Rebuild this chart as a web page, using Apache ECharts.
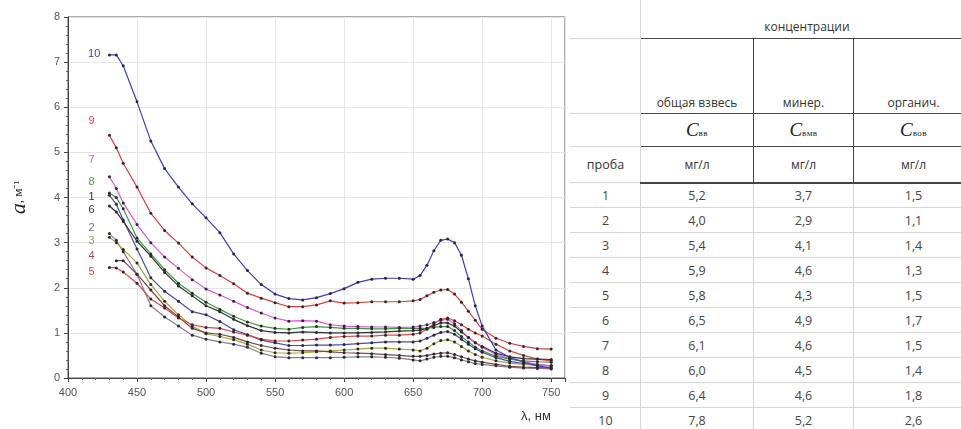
<!DOCTYPE html>
<html>
<head>
<meta charset="utf-8">
<script src="https://cdn.jsdelivr.net/npm/echarts@6/dist/echarts.min.js"></script>
<style>
  body { margin: 0; background: #fff; width: 961px; height: 429px; overflow: hidden; position: relative; }
  #chart { position: absolute; left: 0; top: 0; width: 570px; height: 429px; }
  #tbl { position: absolute; left: 570px; top: 0; width: 391px; height: 429px; overflow: hidden; }
  #tbl table { border-collapse: collapse; table-layout: fixed; width: 403px; font-family: "Open Sans", "Noto Sans", sans-serif; font-size: 12px; color: #333; }
  #tbl td { padding: 0; text-align: center; vertical-align: middle; white-space: nowrap; border: 1px solid transparent; }
  #tbl td.lt { border-right: 1px solid #d6d6d6; border-bottom: 1px solid #d6d6d6; }
  #tbl td.bx { border: 1.5px solid #444; }
  #tbl td.bot { vertical-align: bottom; padding-bottom: 2px; }
  #tbl .c { font-family: "Liberation Serif", serif; font-style: italic; font-size: 19px; color: #222; }
  #tbl .sub { font-family: "Liberation Serif", serif; font-size: 9px; color: #222; letter-spacing: 0.5px; }
  #tbl tr.d td { border-bottom: 1px solid #d6d6d6; border-right: 1px solid #d6d6d6; font-size: 12.5px; color: #444; }
</style>
</head>
<body>
<div id="chart"></div>
<div id="tbl"></div>
<script>
// длины волн, нм
const wl = [430, 435, 440, 450, 460, 470, 480, 490, 500, 510, 520, 530, 540, 550, 560, 570, 580, 590, 600,
  610, 620, 630, 640, 650, 655, 660, 665, 670, 675, 680, 685, 690, 695, 700, 710, 720, 730, 740, 750];

// показатель поглощения a, м-1, по пробам
const s1 = [4.05, 3.85, 3.5, 2.86, 2.22, 1.92, 1.7, 1.47, 1.4, 1.25, 1.07, 0.96, 0.84, 0.78, 0.72, 0.72, 0.73, 0.73, 0.74,
  0.76, 0.78, 0.8, 0.8, 0.8, 0.82, 0.88, 0.95, 1.01, 1.03, 0.97, 0.86, 0.75, 0.65, 0.57, 0.45, 0.37, 0.32, 0.29, 0.27];
const s2 = [3.2, 3.05, 2.8, 2.3, 1.6, 1.35, 1.15, 0.95, 0.86, 0.8, 0.75, 0.68, 0.55, 0.47, 0.45, 0.45, 0.45, 0.45, 0.46,
  0.47, 0.47, 0.46, 0.44, 0.4, 0.38, 0.42, 0.46, 0.48, 0.48, 0.45, 0.4, 0.36, 0.32, 0.3, 0.27, 0.24, 0.22, 0.21, 0.2];
const s3 = [3.12, 3.0, 2.85, 2.55, 2.07, 1.7, 1.4, 1.15, 0.98, 0.92, 0.85, 0.75, 0.62, 0.56, 0.55, 0.56, 0.58, 0.6, 0.62,
  0.64, 0.66, 0.66, 0.64, 0.62, 0.6, 0.66, 0.76, 0.83, 0.85, 0.8, 0.7, 0.6, 0.52, 0.46, 0.38, 0.33, 0.3, 0.28, 0.27];
const s4 = [null, 2.6, 2.6, 2.3, 1.95, 1.6, 1.35, 1.1, 1.0, 0.97, 0.9, 0.8, 0.72, 0.66, 0.62, 0.6, 0.6, 0.58, 0.56,
  0.55, 0.54, 0.52, 0.5, 0.48, 0.48, 0.5, 0.53, 0.55, 0.56, 0.52, 0.47, 0.42, 0.38, 0.35, 0.3, 0.26, 0.24, 0.23, 0.22];
const s5 = [2.45, 2.44, 2.35, 2.1, 1.75, 1.55, 1.33, 1.18, 1.12, 1.1, 1.02, 0.95, 0.86, 0.82, 0.82, 0.84, 0.86, 0.9, 0.92,
  0.93, 0.93, 0.95, 0.95, 0.97, 1.0, 1.08, 1.2, 1.3, 1.33, 1.27, 1.18, 1.08, 1.0, 0.93, 0.75, 0.6, 0.5, 0.42, 0.38];
const s6 = [3.81, 3.68, 3.47, 3.03, 2.7, 2.34, 2.04, 1.82, 1.6, 1.47, 1.3, 1.16, 1.05, 1.01, 1.0, 1.02, 1.01, 1.0, 1.0,
  1.0, 1.01, 1.02, 1.04, 1.05, 1.06, 1.1, 1.16, 1.22, 1.22, 1.15, 1.02, 0.9, 0.78, 0.7, 0.55, 0.47, 0.43, 0.42, 0.41];
const s7 = [4.46, 4.2, 3.88, 3.4, 3.0, 2.68, 2.43, 2.18, 1.97, 1.84, 1.7, 1.56, 1.44, 1.33, 1.26, 1.27, 1.26, 1.18, 1.15,
  1.14, 1.13, 1.13, 1.12, 1.13, 1.15, 1.18, 1.23, 1.28, 1.3, 1.2, 1.05, 0.9, 0.78, 0.68, 0.52, 0.43, 0.36, 0.3, 0.27];
const s8 = [4.1, 4.0, 3.75, 3.1, 2.75, 2.4, 2.1, 1.88, 1.68, 1.52, 1.37, 1.24, 1.15, 1.1, 1.08, 1.12, 1.14, 1.12, 1.1,
  1.1, 1.09, 1.09, 1.1, 1.1, 1.1, 1.1, 1.12, 1.14, 1.14, 1.05, 0.92, 0.8, 0.68, 0.6, 0.48, 0.42, 0.38, 0.36, 0.35];
const s9 = [5.38, 5.1, 4.76, 4.23, 3.65, 3.27, 2.99, 2.68, 2.44, 2.27, 2.09, 1.88, 1.77, 1.67, 1.58, 1.58, 1.62, 1.71, 1.66,
  1.67, 1.69, 1.69, 1.69, 1.71, 1.74, 1.82, 1.9, 1.95, 1.96, 1.86, 1.68, 1.48, 1.28, 1.08, 0.88, 0.77, 0.7, 0.65, 0.64];
const s10 = [7.16, 7.16, 6.92, 6.12, 5.25, 4.64, 4.23, 3.86, 3.55, 3.22, 2.75, 2.38, 2.07, 1.86, 1.76, 1.73, 1.78, 1.87, 1.98,
  2.12, 2.19, 2.21, 2.21, 2.19, 2.27, 2.5, 2.82, 3.05, 3.08, 3.0, 2.72, 2.2, 1.6, 1.15, 0.62, 0.46, 0.35, 0.27, 0.22];

const sampleNames = ['1', '2', '3', '4', '5', '6', '7', '8', '9', '10'];
const sampleValues = [s1, s2, s3, s4, s5, s6, s7, s8, s9, s10];
// где стоят номера проб слева от кривых (в единицах осей)
const tagX = [417, 417, 417, 417, 417, 417, 417, 417, 417, 419];
const tagY = [4.02, 3.33, 3.04, 2.71, 2.36, 3.73, 4.84, 4.35, 5.69, 7.18];

// таблица концентраций
const cTotal = ['5,2', '4,0', '5,4', '5,9', '5,8', '6,5', '6,1', '6,0', '6,4', '7,8'];
const cMineral = ['3,7', '2,9', '4,1', '4,6', '4,3', '4,9', '4,6', '4,5', '4,6', '5,2'];
const cOrganic = ['1,5', '1,1', '1,4', '1,3', '1,5', '1,7', '1,5', '1,4', '1,8', '2,6'];

const lineColors = ['#4a4aa8', '#8a7a94', '#a8a83a', '#7a4a4a', '#e04848', '#333333', '#e050e0', '#3a9a3a', '#e03c3c', '#3c3cc8'];
const tagColors = ['#333', '#777', '#a0a040', '#a05050', '#e04040', '#333', '#d060d0', '#40a040', '#e04040', '#4040c0'];

const chart = echarts.init(document.getElementById('chart'));

const series = sampleValues.map((vals, k) => ({
  name: sampleNames[k],
  type: 'line',
  data: wl.map((x, i) => [x, vals[i]]),
  symbol: 'circle',
  symbolSize: 3,
  showSymbol: true,
  connectNulls: false,
  lineStyle: { color: lineColors[k], width: 1.2 },
  itemStyle: { color: '#2a2a2a' },
  emphasis: { disabled: true },
  markPoint: {
    symbol: 'circle',
    symbolSize: 0.1,
    silent: true,
    data: [{ coord: [tagX[k], tagY[k]] }],
    label: {
      show: true,
      position: 'inside',
      formatter: sampleNames[k],
      color: tagColors[k],
      fontFamily: 'Liberation Sans',
      fontSize: 11
    }
  }
}));

chart.setOption({
  animation: false,
  backgroundColor: '#fff',
  grid: { left: 68, right: 5, top: 17, bottom: 51, show: true, borderColor: '#555', borderWidth: 1 },
  xAxis: {
    type: 'value',
    min: 400,
    max: 760,
    interval: 50,
    axisLine: { show: true, onZero: false, lineStyle: { color: '#444' } },
    axisTick: { show: true, length: 4, lineStyle: { color: '#444' } },
    minorTick: { show: true, splitNumber: 5, length: 2, lineStyle: { color: '#666' } },
    splitLine: { show: true, lineStyle: { color: '#e6e6e6' } },
    axisLabel: { showMaxLabel: false, color: '#555', fontSize: 11, fontFamily: 'Liberation Sans', margin: 9 }
  },
  yAxis: {
    type: 'value',
    min: 0,
    max: 8,
    interval: 1,
    name: '{a|a}{u|, м⁻¹}',
    nameLocation: 'middle',
    nameRotate: 90,
    nameGap: 38,
    nameTextStyle: {
      rich: {
        a: { fontFamily: 'Liberation Serif', fontStyle: 'italic', fontSize: 22, color: '#222' },
        u: { fontFamily: 'Liberation Serif', fontSize: 13, color: '#222' }
      }
    },
    axisLine: { show: true, lineStyle: { color: '#444' } },
    axisTick: { show: true, length: 4, lineStyle: { color: '#444' } },
    minorTick: { show: true, splitNumber: 5, length: 2, lineStyle: { color: '#666' } },
    splitLine: { show: true, lineStyle: { color: '#e6e6e6' } },
    axisLabel: { color: '#555', fontSize: 11, fontFamily: 'Liberation Sans', margin: 8 }
  },
  graphic: [{
    type: 'text',
    left: 521,
    top: 410,
    style: { text: 'λ, нм', font: '13px "Liberation Sans"', fill: '#333' }
  }],
  series: series
});

// таблица справа
let html = '<table><colgroup><col style="width:70px"><col style="width:113px"><col style="width:100px"><col style="width:120px"></colgroup>';
html += '<tr style="height:38px"><td class="lt" style="border-bottom-color:#d6d6d6"></td><td colspan="3" class="bot" style="border-bottom:1.5px solid #444;padding-bottom:3px">концентрации</td></tr>';
html += '<tr style="height:75px"><td class="lt"></td><td class="bx bot">общая взвесь</td><td class="bx bot">минер.</td><td class="bx bot">органич.</td></tr>';
html += '<tr style="height:33px"><td class="lt"></td>' +
  '<td class="bx"><span class="c">C</span><span class="sub">вв</span></td>' +
  '<td class="bx"><span class="c">C</span><span class="sub">вмв</span></td>' +
  '<td class="bx"><span class="c">C</span><span class="sub">вов</span></td></tr>';
html += '<tr style="height:36px"><td class="lt" style="font-size:12.5px">проба</td>' +
  '<td class="bx" style="border-bottom-width:2px">мг/л</td><td class="bx" style="border-bottom-width:2px">мг/л</td><td class="bx" style="border-bottom-width:2px">мг/л</td></tr>';
for (let i = 0; i < sampleNames.length; i++) {
  html += '<tr class="d" style="height:25px"><td>' + sampleNames[i] + '</td><td>' + cTotal[i] + '</td><td>' +
    cMineral[i] + '</td><td>' + cOrganic[i] + '</td></tr>';
}
html += '</table>';
document.getElementById('tbl').innerHTML = html;
</script>
</body>
</html>
